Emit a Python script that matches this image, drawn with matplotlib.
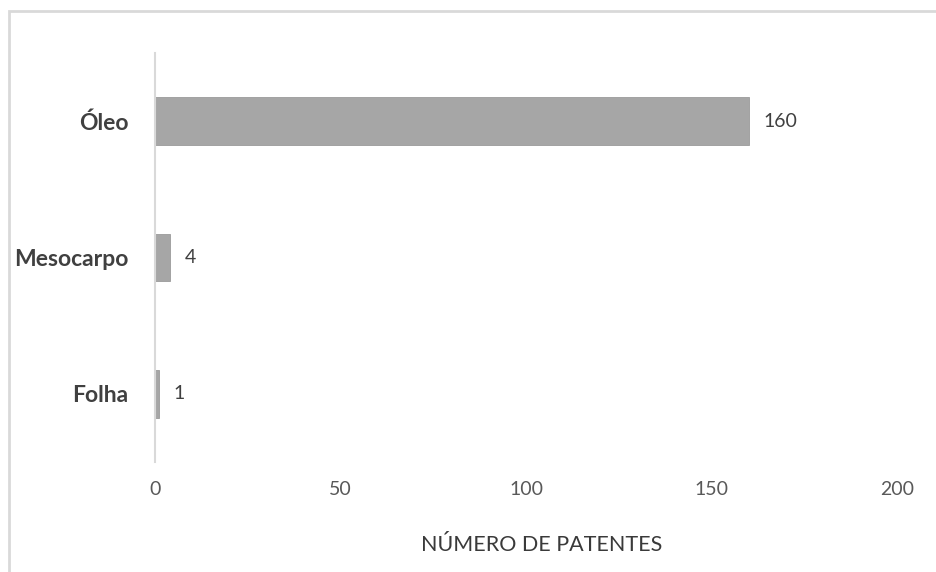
import matplotlib.pyplot as plt
from matplotlib.patches import Rectangle

# dados
categorias = ["Folha", "Mesocarpo", "Óleo"]
patentes = [1, 4, 160]
ticks_x = [0, 50, 100, 150, 200]

plt.rcParams["font.family"] = ["Lato", "DejaVu Sans"]

fig = plt.figure(figsize=(9.37, 5.72), dpi=100)
ax = fig.add_axes([0.1654, 0.1923, 0.7919, 0.715])

y = range(len(categorias))
barras = ax.barh(y, patentes, height=0.35, color="#A6A6A6",
                 edgecolor="#9A9A9A", linewidth=0.6)

# rótulos de valor
for yi, v in zip(y, patentes):
    ax.annotate(str(v), xy=(v, yi), xytext=(11, 0), textcoords="offset points",
                ha="left", va="center", fontsize=14, color="#404040")

ax.set_xlim(0, 200)
ax.set_ylim(-0.5, 2.5)
ax.set_xticks(ticks_x)
ax.set_yticks(list(y))
ax.set_yticklabels(categorias, fontsize=16.5, fontweight="bold", color="#404040")
ax.tick_params(axis="x", length=0, pad=14, labelsize=14, labelcolor="#595959")
ax.tick_params(axis="y", length=0, pad=19)

for s in ["top", "right", "bottom"]:
    ax.spines[s].set_visible(False)
ax.spines["left"].set_color("#D9D9D9")
ax.spines["left"].set_linewidth(1.5)

fig.text(542 / 937, 1 - 545 / 572, "NÚMERO DE PATENTES", ha="center", va="center",
         fontsize=15.5, color="#3A3A3A")

# moldura do gráfico
fig.patches.append(Rectangle((9 / 937, -0.05), 1.2, 1 - 11 / 572 + 0.05,
                             transform=fig.transFigure, fill=False,
                             edgecolor="#D9D9D9", linewidth=2))

fig.savefig("out.png", dpi=100, facecolor="white")
